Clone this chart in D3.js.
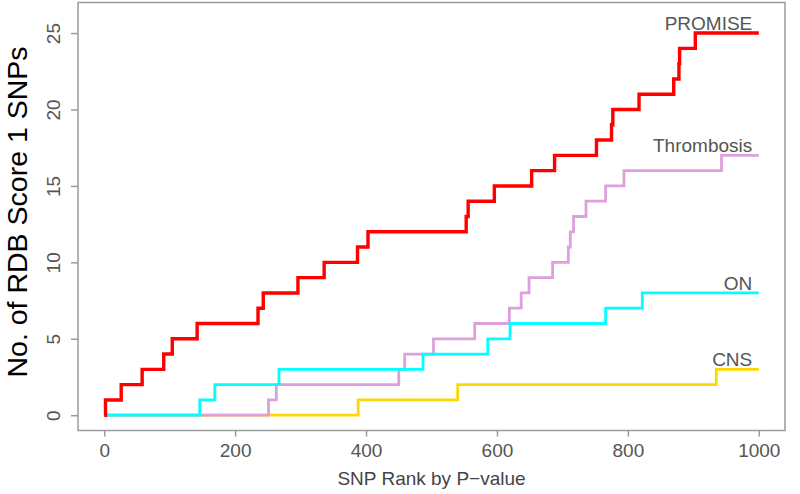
<!DOCTYPE html>
<html>
<head>
<meta charset="utf-8">
<script src="https://cdn.jsdelivr.net/npm/d3@7"></script>
<style>
  html, body { margin: 0; padding: 0; background: #fff; }
  svg { display: block; font-family: "Liberation Sans", Arial, sans-serif; }
</style>
</head>
<body>
<svg id="chart" width="800" height="494"></svg>
<script>
// Ranks (x) at which each cumulative count steps up by one
const seriesNames = ["CNS", "Thrombosis", "ON", "PROMISE"];
const cnsSteps = [388, 540, 935];
const thrombosisSteps = [251, 263, 450, 459, 503, 566, 619, 637, 649, 685, 709, 712, 717, 736, 766, 794, 943];
const onSteps = [146, 169, 267, 487, 586, 620, 766, 822];
const promiseSteps = [2, 26, 58, 91, 104, 142, 235, 243, 296, 336, 387, 403, 553, 556, 596, 653, 688, 752, 775, 777, 817, 870, 878, 879, 903];
const maxRank = 1000;
const xTicks = [0, 200, 400, 600, 800, 1000];
const yTicks = [0, 5, 10, 15, 20, 25];
const colors = ["#FFD700", "#DDA0DD", "#00FFFF", "#FF0000"];

const stepsBySeries = [cnsSteps, thrombosisSteps, onSteps, promiseSteps];

const svg = d3.select("#chart");
const pLeft = 78, pRight = 785, pTop = 2.5, pBottom = 430.5;

const x = d3.scaleLinear().domain([-40, 1040]).range([pLeft, pRight]);
const y = d3.scaleLinear().domain([-1, 27]).range([pBottom, pTop]);

// series lines
const line = d3.line().x(d => x(d[0])).y(d => y(d[1])).curve(d3.curveStepAfter);

stepsBySeries.forEach((steps, i) => {
  const pts = [[0, 0]];
  steps.forEach((r, k) => pts.push([r, k + 1]));
  pts.push([maxRank, steps.length]);
  svg.append("path")
    .attr("d", line(pts))
    .attr("fill", "none")
    .attr("stroke", colors[i])
    .attr("stroke-width", i === 3 ? 3.4 : 2.8)
    .attr("stroke-linejoin", "miter");
});

// box
svg.append("rect")
  .attr("x", pLeft).attr("y", pTop)
  .attr("width", pRight - pLeft).attr("height", pBottom - pTop)
  .attr("fill", "none").attr("stroke", "#9a9a9a").attr("stroke-width", 1.5);

// x axis
const xAxis = svg.append("g").attr("transform", `translate(0,${pBottom})`)
  .call(d3.axisBottom(x).tickValues(xTicks).tickSize(6).tickFormat(d3.format("d")));
xAxis.select(".domain").remove();
xAxis.selectAll(".tick line").attr("stroke", "#9a9a9a").attr("stroke-width", 1.5);
xAxis.selectAll(".tick text")
  .attr("y", 26.5).attr("dy", 0)
  .attr("fill", "#555").style("font-size", "19px")
  .style("font-family", "'Liberation Sans', Arial, sans-serif");

// y axis
const yAxis = svg.append("g").attr("transform", `translate(${pLeft},0)`)
  .call(d3.axisLeft(y).tickValues(yTicks).tickSize(7).tickFormat(d3.format("d")));
yAxis.select(".domain").remove();
yAxis.selectAll(".tick line").attr("stroke", "#9a9a9a").attr("stroke-width", 1.5);
yAxis.selectAll(".tick text")
  .attr("x", 0).attr("dy", 0)
  .attr("transform", "translate(-18,0) rotate(-90)")
  .attr("text-anchor", "middle")
  .attr("fill", "#555").style("font-size", "19px")
  .style("font-family", "'Liberation Sans', Arial, sans-serif");

// axis titles
svg.append("text")
  .attr("x", (pLeft + pRight) / 2).attr("y", 485)
  .attr("text-anchor", "middle")
  .attr("fill", "#444").style("font-size", "19px")
  .text("SNP Rank by P\u2212value");

svg.append("text")
  .attr("transform", `translate(27,212) rotate(-90)`)
  .attr("text-anchor", "middle")
  .attr("fill", "#000").style("font-size", "28.5px")
  .text("No. of RDB Score 1 SNPs");

// series labels
stepsBySeries.forEach((steps, i) => {
  svg.append("text")
    .attr("x", x(990)).attr("y", y(steps.length) - 3)
    .attr("text-anchor", "end")
    .attr("fill", "#555").style("font-size", "19px")
    .text(seriesNames[i]);
});
</script>
</body>
</html>
